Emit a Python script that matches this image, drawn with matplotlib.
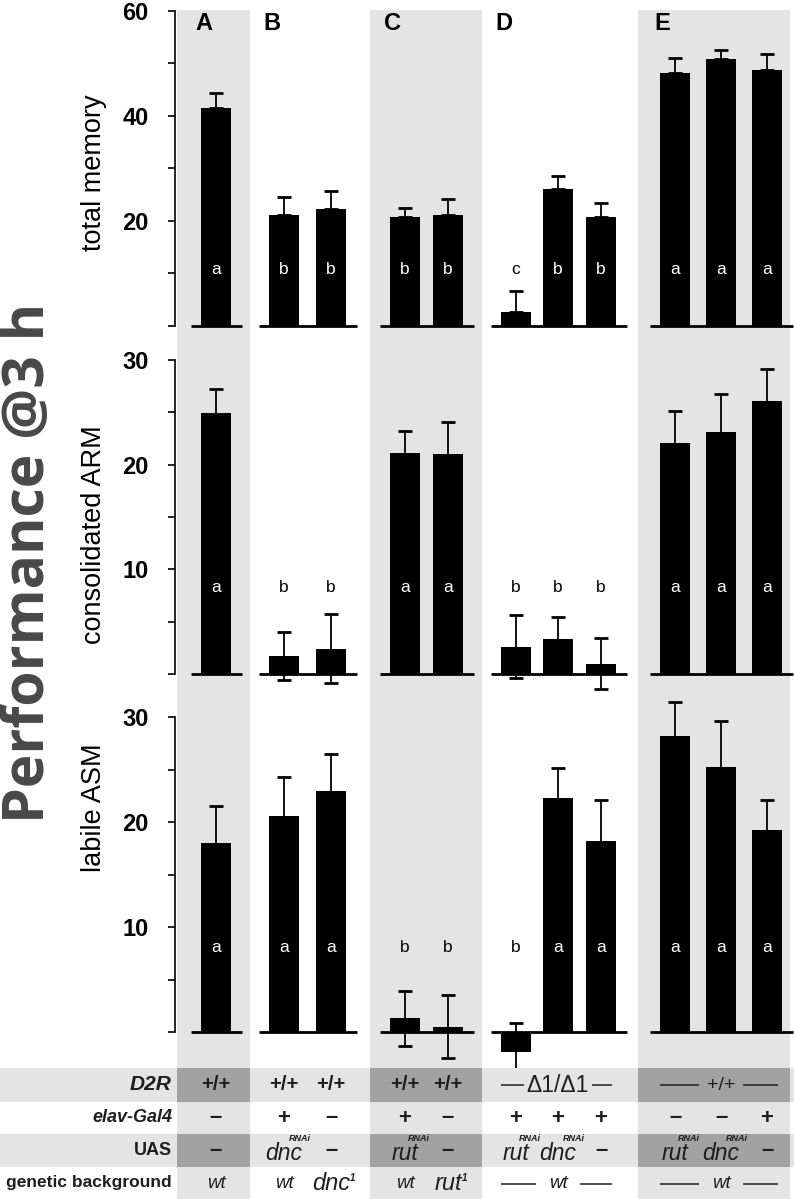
import matplotlib
matplotlib.use("Agg")
import matplotlib.pyplot as plt
from matplotlib.patches import Rectangle

plt.rcParams["font.family"] = ["Liberation Sans", "DejaVu Sans"]

W, H = 794, 1199

# -----------------------------------
# DATA
# -----------------------------------
groups = ["A", "B", "C", "D", "E"]
group_sizes = [1, 2, 2, 3, 3]

total_memory = [41.5, 21.1, 22.3, 20.8, 21.2, 2.7, 26.1, 20.8, 48.2, 50.9, 48.8]
total_err = [2.9, 3.5, 3.4, 1.7, 3.0, 4.0, 2.5, 2.6, 2.8, 1.7, 3.1]
total_sig = ["a", "b", "b", "b", "b", "c", "b", "b", "a", "a", "a"]

arm = [24.9, 1.7, 2.4, 21.1, 21.0, 2.6, 3.3, 1.0, 22.1, 23.1, 26.1]
arm_err = [2.3, 2.3, 3.3, 2.1, 3.1, 3.0, 2.1, 2.4, 3.0, 3.6, 3.0]
arm_sig = ["a", "b", "b", "a", "a", "b", "b", "b", "a", "a", "a"]

asm = [18.0, 20.6, 23.0, 1.3, 0.5, -1.9, 22.3, 18.2, 28.2, 25.2, 19.2]
asm_err = [3.5, 3.7, 3.5, 2.6, 3.0, 2.8, 2.8, 3.9, 3.2, 4.4, 2.9]
asm_sig = ["a", "a", "a", "b", "b", "b", "a", "a", "a", "a", "a"]

d2r_row = [["+/+"], ["+/+", "+/+"], ["+/+", "+/+"], ["Δ1/Δ1"], ["+/+"]]
elav_row = ["–", "+", "–", "+", "–", "+", "+", "+", "–", "–", "+"]
uas_row = ["–", "dnc", "–", "rut", "–", "rut", "dnc", "–", "rut", "dnc", "–"]
uas_sup = ["", "RNAi", "", "RNAi", "", "RNAi", "RNAi", "", "RNAi", "RNAi", ""]
background_row = [["wt"], ["wt", "dnc"], ["wt", "rut"], ["wt"], ["wt"]]
background_sup = [[""], ["", "1"], ["", "1"], [""], [""]]

# -----------------------------------
# LAYOUT (pixels)
# -----------------------------------
bar_x = [216, 284, 331, 405, 448, 516, 558, 601, 675, 721, 767]
shaded_cols = [(177, 250), (370, 482), (638, 790)]
LIGHT = "#e4e4e4"
DARK = "#a2a2a2"
INK = "#1e1e1e"

fig = plt.figure(figsize=(W / 100, H / 100), dpi=100)

# background layer: shading and table
bg = fig.add_axes([0, 0, 1, 1], zorder=-1)
bg.set_xlim(0, W)
bg.set_ylim(H, 0)
bg.axis("off")

for x0, x1 in shaded_cols:
    bg.add_patch(Rectangle((x0, 10), x1 - x0, H - 10, color=LIGHT, lw=0))

rows_y = [(1068, 1102), (1102, 1134), (1134, 1167), (1167, 1199)]
for r in (0, 2):
    y0, y1 = rows_y[r]
    bg.add_patch(Rectangle((0, y0), W, y1 - y0, color=LIGHT, lw=0))
    for x0, x1 in shaded_cols:
        bg.add_patch(Rectangle((x0, y0), x1 - x0, y1 - y0, color=DARK, lw=0))

row_mid = [(a + b) / 2 for a, b in rows_y]

bg.text(172, row_mid[0], "D2R", ha="right", va="center", fontsize=15,
        weight="bold", style="italic", color=INK)
bg.text(172, row_mid[1], "elav-Gal4", ha="right", va="center", fontsize=13,
        weight="bold", style="italic", color=INK)
bg.text(172, row_mid[2], "UAS", ha="right", va="center", fontsize=13,
        weight="bold", color=INK)
bg.text(172, row_mid[3], "genetic background", ha="right", va="center",
        fontsize=12.5, weight="bold", color=INK)


def spanned(text, xs, y, gap, **kw):
    xc = xs[len(xs) // 2]
    bg.text(xc, y, text, ha="center", va="center", color=INK, **kw)
    bg.hlines(y, xs[0] - 15, xc - gap, color=INK, lw=1.1)
    bg.hlines(y, xc + gap, xs[-1] + 11, color=INK, lw=1.1)


def with_sup(x, y, base, sup, size):
    t = bg.text(x, y, base, ha="center", va="center", fontsize=size,
                style="italic", color=INK)
    if sup == "1":
        bg.annotate(sup, xy=(1.0, 0.95), xycoords=t, ha="left", va="top",
                    fontsize=7, style="italic", weight="bold", color=INK)
    elif sup:
        bg.annotate(sup, xy=(0.62, 1.0), xycoords=t, ha="left", va="bottom",
                    xytext=(0, -1), textcoords="offset points",
                    fontsize=6.5, style="italic", weight="bold", color=INK)


idx = 0
for g, size in enumerate(group_sizes):
    xs = bar_x[idx:idx + size]
    # D2R row
    cell = d2r_row[g]
    if len(cell) == size:
        for x, t in zip(xs, cell):
            bg.text(x, row_mid[0], t, ha="center", va="center", fontsize=14.5,
                    weight="bold", color=INK)
    else:
        gap = 34 if cell[0] == "Δ1/Δ1" else 22
        fs = 16.5 if cell[0] == "Δ1/Δ1" else 14
        spanned(cell[0], xs, row_mid[0], gap, fontsize=fs)
    # genetic background row
    cell = background_row[g]
    if len(cell) == size:
        for x, t, s in zip(xs, cell, background_sup[g]):
            with_sup(x, row_mid[3], t, s, 17 if s else 13.5)
    else:
        spanned(cell[0], xs, row_mid[3] + 1, 22, fontsize=13.5, style="italic")
    idx += size

for x, t in zip(bar_x, elav_row):
    bg.text(x, row_mid[1], t, ha="center", va="center", fontsize=16,
            weight="bold", color=INK)

for x, t, s in zip(bar_x, uas_row, uas_sup):
    if t == "–":
        bg.text(x, row_mid[2], t, ha="center", va="center", fontsize=16,
                weight="bold", color=INK)
    else:
        with_sup(x, row_mid[2] + 3, t, s, 16.5)

# -----------------------------------
# BAR PANELS
# -----------------------------------
panels = [
    dict(vals=total_memory, errs=total_err, sig=total_sig, sig_y=10.7,
         zero=326, ppu=5.25, top=4, bottom=345, ymax=60, lower_err=False,
         major=[20, 40, 60], minor=[0, 10, 30, 50],
         label="total memory", label_y=173),
    dict(vals=arm, errs=arm_err, sig=arm_sig, sig_y=8.3,
         zero=674, ppu=10.47, top=352, bottom=700, ymax=30, lower_err=True,
         major=[10, 20, 30], minor=[0, 5, 15, 25],
         label="consolidated ARM", label_y=535),
    dict(vals=asm, errs=asm_err, sig=asm_sig, sig_y=8.0,
         zero=1032, ppu=10.5, top=690, bottom=1068, ymax=30, lower_err=True,
         major=[10, 20, 30], minor=[0, 5, 15, 25],
         label="labile ASM", label_y=808),
]

for p in panels:
    ax = fig.add_axes([175 / W, 1 - p["bottom"] / H, (W - 175) / W,
                       (p["bottom"] - p["top"]) / H])
    ax.set_facecolor("none")
    ax.set_xlim(175, W)
    ax.set_ylim((p["zero"] - p["bottom"]) / p["ppu"],
                (p["zero"] - p["top"]) / p["ppu"])

    if p["lower_err"]:
        yerr = p["errs"]
    else:
        yerr = [[0] * len(p["errs"]), p["errs"]]
    ax.errorbar(bar_x, p["vals"], yerr=yerr, fmt="none", ecolor="black",
                elinewidth=1.3, capsize=4.7, capthick=2, zorder=1)
    ax.bar(bar_x, p["vals"], width=30, color="black", zorder=2)

    i = 0
    for size in group_sizes:
        xs = bar_x[i:i + size]
        ax.hlines(0, xs[0] - 25, xs[-1] + 26, color="black", lw=2, zorder=3)
        i += size

    for x, v, s in zip(bar_x, p["vals"], p["sig"]):
        col = "white" if v > p["sig_y"] + 1.5 else "black"
        ax.text(x, p["sig_y"], s, ha="center", va="center", fontsize=12.5,
                color=col, zorder=4)

    for side in ("top", "right", "bottom"):
        ax.spines[side].set_visible(False)
    ax.spines["left"].set_bounds(0, p["ymax"])
    ax.spines["left"].set_linewidth(1.2)
    ax.set_xticks([])
    ax.set_yticks(p["major"])
    ax.set_yticks(p["minor"], minor=True)
    ax.tick_params(axis="y", which="both", direction="out", length=5,
                   width=1.2, pad=14, labelsize=17)
    for lab in ax.get_yticklabels():
        lab.set_fontweight("bold")

    fig.text(94 / W, 1 - p["label_y"] / H, p["label"], rotation=90,
             ha="center", va="center", fontsize=19.5)

# group letters
i = 0
for g, size in zip(groups, group_sizes):
    fig.text((bar_x[i] - 21) / W, 1 - 12 / H, g, ha="left", va="top",
             fontsize=17, weight="bold")
    i += size

fig.text(29 / W, 1 - 563 / H, "Performance @3 h", rotation=90, ha="center",
         va="center", fontsize=41, family=["Open Sans", "DejaVu Sans"],
         weight="bold", color="#484848")

fig.savefig("out.png", dpi=100)
